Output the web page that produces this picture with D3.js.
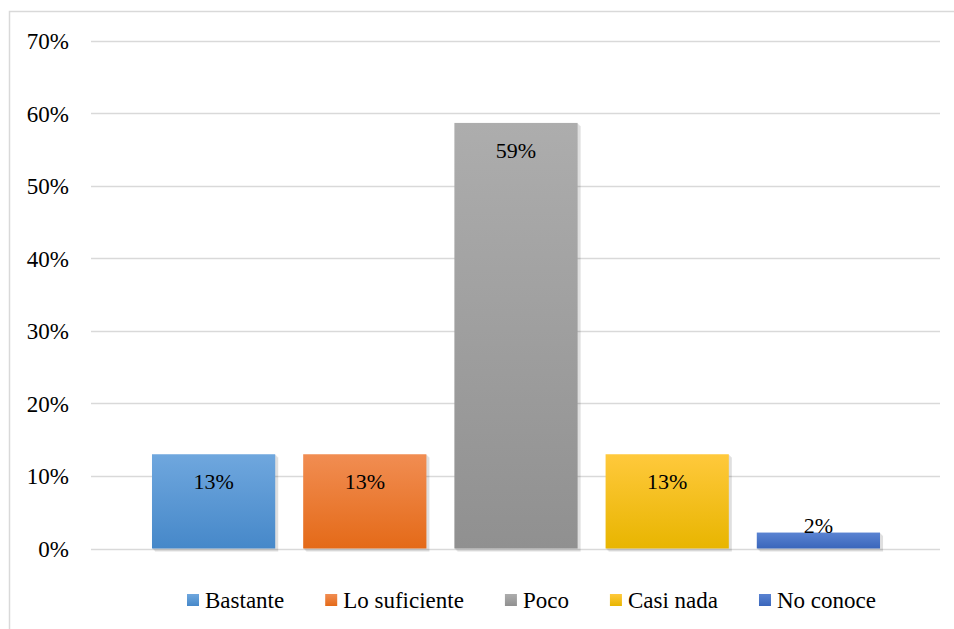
<!DOCTYPE html>
<html>
<head>
<meta charset="utf-8">
<script src="https://cdn.jsdelivr.net/npm/d3@7/dist/d3.min.js"></script>
</head>
<body style="margin:0;padding:0;background:#fff">
<svg id="chart" width="954" height="629" style="display:block"></svg>
<script>
// ---- data ----
const categories = ["Bastante", "Lo suficiente", "Poco", "Casi nada", "No conoce"];
const values = [0.13, 0.13, 0.587, 0.13, 0.022];
const yTicks = [0, 0.1, 0.2, 0.3, 0.4, 0.5, 0.6, 0.7];
const colorsTop = ["#6fa7de", "#f18d52", "#adadad", "#ffc93c", "#5a83d2"];
const colorsBottom = ["#4688c9", "#e46a18", "#909090", "#e8b500", "#3a66bb"];

const svg = d3.select("#chart");

// outer border (right and bottom are cut off in the reference)
svg.append("rect")
  .attr("x", 9.5).attr("y", 11.5)
  .attr("width", 1000).attr("height", 700)
  .attr("fill", "none").attr("stroke", "#d9d9d9").attr("stroke-width", 1.5);

const plotLeft = 91, plotRight = 940;
const y = d3.scaleLinear().domain([0, 0.7]).range([548.5, 41]);
const x = d3.scaleBand().domain(categories)
  .range([138, 894]).paddingInner(0.185).paddingOuter(0.0925);

const defs = svg.append("defs");
categories.forEach((c, i) => {
  const g = defs.append("linearGradient").attr("id", "grad" + i)
    .attr("x1", 0).attr("y1", 0).attr("x2", 0).attr("y2", 1);
  g.append("stop").attr("offset", "0%").attr("stop-color", colorsTop[i]);
  g.append("stop").attr("offset", "100%").attr("stop-color", colorsBottom[i]);
});

// gridlines
svg.append("g").selectAll("line").data(yTicks).join("line")
  .attr("x1", plotLeft).attr("x2", plotRight)
  .attr("y1", d => Math.round(y(d)) + 0.5).attr("y2", d => Math.round(y(d)) + 0.5)
  .attr("stroke", "#d9d9d9").attr("stroke-width", 1.5);

// y axis labels (plain text elements placed with the scale)
svg.append("g").selectAll("text").data(yTicks).join("text")
  .attr("x", 69)
  .attr("y", d => y(d))
  .attr("dy", "0.35em")
  .attr("text-anchor", "end")
  .attr("fill", "#000")
  .attr("font-family", "Liberation Serif")
  .attr("font-size", 23)
  .text(d => d3.format(".0%")(d));

// bar shadows (soft offset copies)
const shadowG = svg.append("g").attr("opacity", 0.12);
[3, 2, 1].forEach(o => {
  shadowG.append("g").selectAll("rect").data(values).join("rect")
    .attr("x", (d, i) => x(categories[i]) + o)
    .attr("y", d => y(d) + o)
    .attr("width", x.bandwidth())
    .attr("height", d => y(0) - y(d))
    .attr("fill", "#000");
});

// bars
svg.append("g").selectAll("rect").data(values).join("rect")
  .attr("x", (d, i) => x(categories[i]))
  .attr("y", d => y(d))
  .attr("width", x.bandwidth())
  .attr("height", d => y(0) - y(d))
  .attr("fill", (d, i) => `url(#grad${i})`);

// data labels
svg.append("g").selectAll("text").data(values).join("text")
  .attr("x", (d, i) => x(categories[i]) + x.bandwidth() / 2)
  .attr("y", d => Math.min(y(d) + 35, y(0) - 16))
  .attr("text-anchor", "middle")
  .attr("fill", "#000")
  .attr("font-family", "Liberation Serif")
  .attr("font-size", 22)
  .text(d => d3.format(".0%")(d));

// legend
const legend = svg.append("g");
let lx = 187;
const ly = 600;
categories.forEach((c, i) => {
  const item = legend.append("g");
  item.append("rect").attr("x", lx).attr("y", ly - 6).attr("width", 12).attr("height", 12)
    .attr("fill", `url(#grad${i})`);
  const t = item.append("text").attr("x", lx + 18).attr("y", ly).attr("dy", "0.35em")
    .attr("fill", "#000")
    .attr("font-family", "Liberation Serif")
    .attr("font-size", 23).text(c);
  const w = t.node().getComputedTextLength();
  lx = lx + 18 + w + 41;
});
</script>
</body>
</html>
